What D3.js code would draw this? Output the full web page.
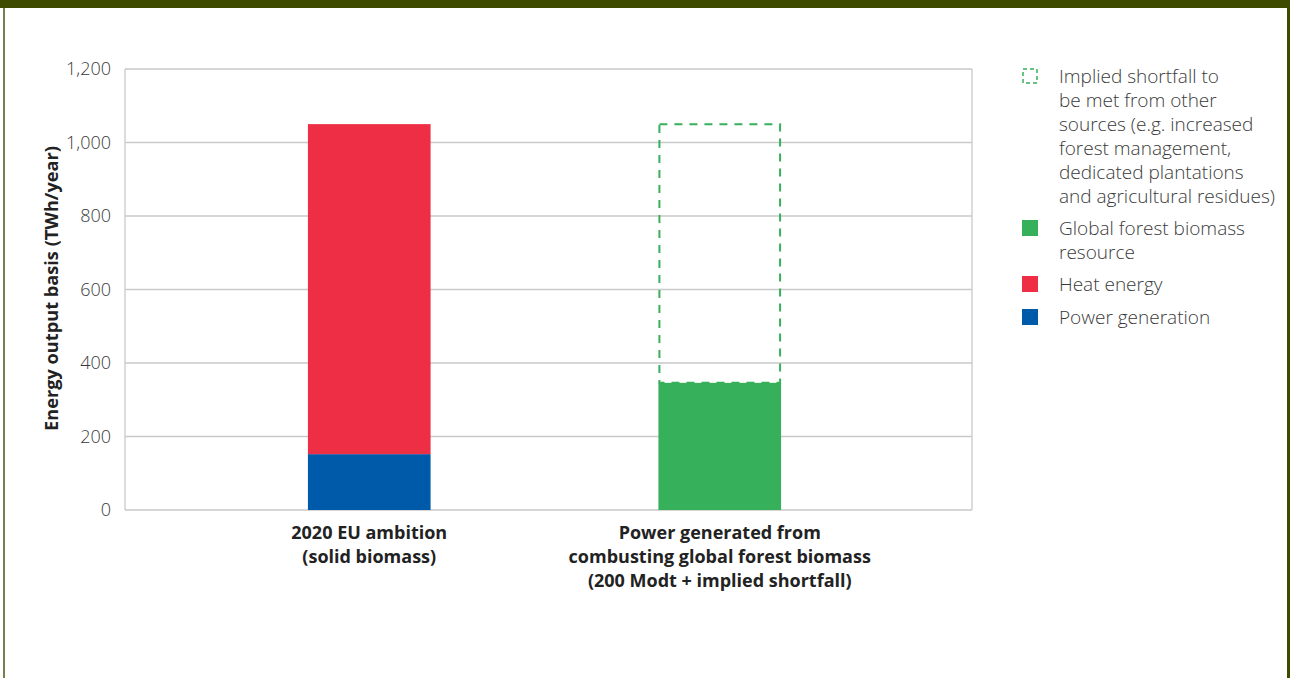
<!DOCTYPE html>
<html>
<head>
<meta charset="utf-8">
<script src="https://cdn.jsdelivr.net/npm/d3@7"></script>
<style>
  html, body { margin: 0; padding: 0; background: #fff; }
  svg { display: block; }
  text { font-family: "Open Sans", "Noto Sans", sans-serif; }
</style>
</head>
<body>
<svg id="chart" width="1290" height="678"></svg>
<script>
// Stacked bar data (TWh/year)
const categories = ["2020 EU ambition", "Power generated"];
const categoryLabels = [
  ["2020 EU ambition", "(solid biomass)"],
  ["Power generated from", "combusting global forest biomass", "(200 Modt + implied shortfall)"]
];
const powerGeneration = [152, 0];
const heatEnergy = [898, 0];
const forestBiomass = [0, 346];
const impliedShortfall = [0, 704];
const yTicks = [0, 200, 400, 600, 800, 1000, 1200];

const legendItems = [
  { key: "shortfall", color: "#36b05a", dashed: true,
    lines: ["Implied shortfall to", "be met from other", "sources (e.g. increased",
            "forest management,", "dedicated plantations", "and agricultural residues)"] },
  { key: "forest", color: "#36b05a", lines: ["Global forest biomass", "resource"] },
  { key: "heat", color: "#ee2e44", lines: ["Heat energy"] },
  { key: "power", color: "#005aaa", lines: ["Power generation"] }
];

const svg = d3.select("#chart");
const W = 1290, H = 678;

// Frame: dark band on top and side borders
svg.append("rect").attr("x", 0).attr("y", 0).attr("width", W).attr("height", 8).attr("fill", "#3d4a00");
svg.append("rect").attr("x", 3).attr("y", 8).attr("width", 2).attr("height", H - 8).attr("fill", "#7b7f4b");
svg.append("rect").attr("x", 1287).attr("y", 8).attr("width", 3).attr("height", H - 8).attr("fill", "#3d4a00");

const plot = { left: 125, right: 972, top: 69, bottom: 510 };

const y = d3.scaleLinear().domain([0, 1200]).range([plot.bottom, plot.top]);
const x = d3.scaleBand().domain(categories).range([194, 895]).padding(0);
const barW = x.bandwidth() * 0.35;
const cx = d => x(d) + x.bandwidth() / 2;

// Gridlines
svg.append("g").selectAll("line").data(yTicks).join("line")
  .attr("x1", plot.left).attr("x2", plot.right)
  .attr("y1", d => y(d)).attr("y2", d => y(d))
  .attr("stroke", "#c9c9c9").attr("stroke-width", 1.3);

// Plot-area side lines
svg.append("line").attr("x1", plot.left).attr("x2", plot.left)
  .attr("y1", plot.top).attr("y2", plot.bottom).attr("stroke", "#c9c9c9").attr("stroke-width", 1.3);
svg.append("line").attr("x1", plot.right).attr("x2", plot.right)
  .attr("y1", plot.top).attr("y2", plot.bottom).attr("stroke", "#c9c9c9").attr("stroke-width", 1.3);

// Y axis labels
const yAxis = d3.axisLeft(y).tickValues(yTicks).tickSize(0).tickPadding(14)
  .tickFormat(d3.format(","));
const gy = svg.append("g").attr("transform", `translate(${plot.left},0)`).call(yAxis);
gy.select(".domain").remove();
gy.selectAll("text").attr("font-size", 18).attr("fill", "#3a3a3a").attr("font-weight", 300)
  .attr("font-family", "'Open Sans', sans-serif");

// Y axis title
svg.append("text")
  .attr("transform", `translate(58,${(plot.top + plot.bottom) / 2 - 1}) rotate(-90)`)
  .attr("text-anchor", "middle")
  .attr("font-size", 18.2).attr("font-weight", 700).attr("fill", "#222")
  .text("Energy output basis (TWh/year)");

// Stacked bars
const stackKeys = ["power", "heat", "forest"];
const colors = { power: "#005aaa", heat: "#ee2e44", forest: "#36b05a" };
const rows = categories.map((c, i) => ({
  cat: c, power: powerGeneration[i], heat: heatEnergy[i], forest: forestBiomass[i]
}));
const series = d3.stack().keys(stackKeys)(rows);
svg.append("g").selectAll("g").data(series).join("g")
  .attr("fill", s => colors[s.key])
  .selectAll("rect").data(s => s.filter(d => d[1] > d[0])).join("rect")
  .attr("x", d => cx(d.data.cat) - barW / 2)
  .attr("width", barW)
  .attr("y", d => y(d[1]))
  .attr("height", d => y(d[0]) - y(d[1]));

// Dashed outline for the implied shortfall
svg.append("g").selectAll("rect").data(categories.filter((c, i) => impliedShortfall[i] > 0)).join("rect")
  .attr("x", c => cx(c) - barW / 2 + 1)
  .attr("width", barW - 2)
  .attr("y", c => { const i = categories.indexOf(c); return y(forestBiomass[i] + impliedShortfall[i]); })
  .attr("height", c => { const i = categories.indexOf(c);
    return y(forestBiomass[i]) - y(forestBiomass[i] + impliedShortfall[i]); })
  .attr("fill", "none").attr("stroke", "#36b05a").attr("stroke-width", 2)
  .attr("stroke-dasharray", "8,7");

// Category labels
const lab = svg.append("g").selectAll("text").data(categories).join("text")
  .attr("text-anchor", "middle")
  .attr("font-size", 18).attr("font-weight", 700).attr("fill", "#222");
lab.each(function(c, i) {
  d3.select(this).selectAll("tspan").data(categoryLabels[i]).join("tspan")
    .attr("x", cx(c)).attr("y", (d, j) => 539 + j * 24).text(d => d);
});

// Legend
const legendY = [76, 228, 284, 317];
const lg = svg.append("g");
legendItems.forEach((item, i) => {
  const yy = legendY[i];
  if (item.dashed) {
    lg.append("rect").attr("x", 1023).attr("y", yy - 7).attr("width", 14).attr("height", 14)
      .attr("fill", "none").attr("stroke", item.color).attr("stroke-width", 1.5)
      .attr("stroke-dasharray", "4,3");
  } else {
    lg.append("rect").attr("x", 1022).attr("y", yy - 8).attr("width", 16).attr("height", 16)
      .attr("fill", item.color);
  }
  const t = lg.append("text").attr("font-size", 19).attr("font-weight", 300).attr("fill", "#3a3a3a");
  item.lines.forEach((ln, j) => {
    t.append("tspan").attr("x", 1059).attr("y", yy + 7 + j * 24).text(ln);
  });
});
</script>
</body>
</html>
